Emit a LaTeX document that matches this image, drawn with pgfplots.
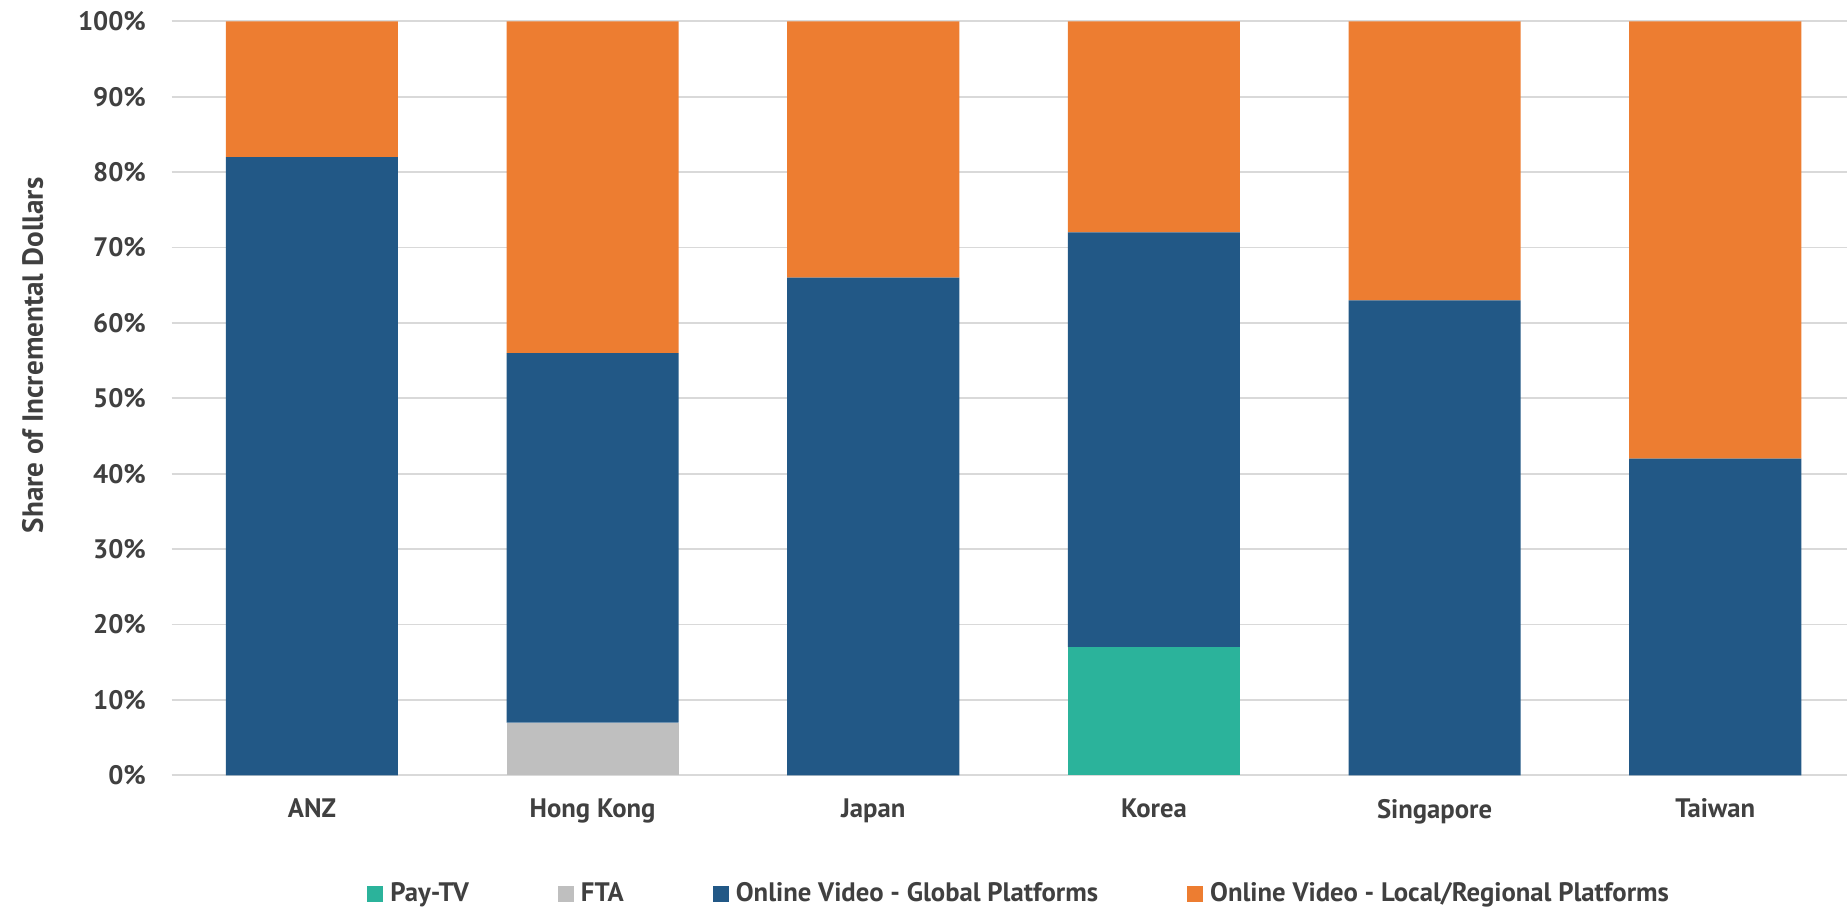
\documentclass[border=0pt]{standalone}
\usepackage{fontspec}
\setmainfont{PT Sans}
\usepackage{pgfplots}
\pgfplotsset{compat=1.18}
\definecolor{cPay}{HTML}{2BB39B}
\definecolor{cFTA}{HTML}{BFBFBF}
\definecolor{cGlob}{HTML}{225886}
\definecolor{cLoc}{HTML}{ED7D31}
\definecolor{cTxt}{HTML}{404040}
\definecolor{cGrid}{HTML}{D9D9D9}
\begin{document}
\begin{tikzpicture}
\begin{axis}[name=ax,
  scale only axis, width=168.4mm, height=75.4mm,
  ybar stacked, bar width=0.613,
  xmin=-0.5, xmax=5.5, ymin=0, ymax=100,
  xtick=data, xticklabels={ANZ,Hong Kong,Japan,Korea,Singapore,Taiwan},
  ytick={0,10,...,100},
  yticklabel={\pgfmathprintnumber{\tick}\%},
  /pgf/number format/assume math mode=true,
  axis line style={draw=none}, major tick length=0pt,
  ymajorgrids, grid style={cGrid, line width=0.5pt},
  tick label style={font=\fontsize{7.6pt}{9pt}\selectfont\bfseries, text=cTxt},
  yticklabel style={inner sep=0pt, xshift=-2.5mm},
  xticklabel style={inner sep=0pt, yshift=-2.3mm},
  ylabel={Share of Incremental Dollars},
  ylabel style={at={(rel axis cs:0,0.557)}, anchor=center, rotate=0, yshift=13.9mm, font=\fontsize{8.3pt}{10pt}\selectfont\bfseries, text=cTxt},
  legend style={at={(rel axis cs:0.5,0)}, anchor=center, yshift=-11.9mm, xshift=0.8mm, draw=none, font=\fontsize{7.6pt}{9pt}\selectfont\bfseries, text=cTxt, legend columns=-1, /tikz/every even column/.append style={column sep=8.2mm}},
  legend image code/.code={\fill[#1] (0mm,-0.8mm) rectangle (1.6mm,0.8mm);},
]
\addplot[fill=cPay, draw=none] coordinates {(0,0) (1,0) (2,0) (3,17) (4,0) (5,0)};
\addplot[fill=cFTA, draw=none] coordinates {(0,0) (1,7) (2,0) (3,0) (4,0) (5,0)};
\addplot[fill=cGlob, draw=none] coordinates {(0,82) (1,49) (2,66) (3,55) (4,63) (5,42)};
\addplot[fill=cLoc, draw=none] coordinates {(0,18) (1,44) (2,34) (3,28) (4,37) (5,58)};
\legend{Pay-TV, FTA, Online Video - Global Platforms, Online Video - Local/Regional Platforms}
\end{axis}
\pgfresetboundingbox
\path ([xshift=-17.16mm, yshift=-13.4mm]ax.south west) rectangle ([xshift=167.54mm, yshift=2.13mm]ax.north west);
\end{tikzpicture}
\end{document}
